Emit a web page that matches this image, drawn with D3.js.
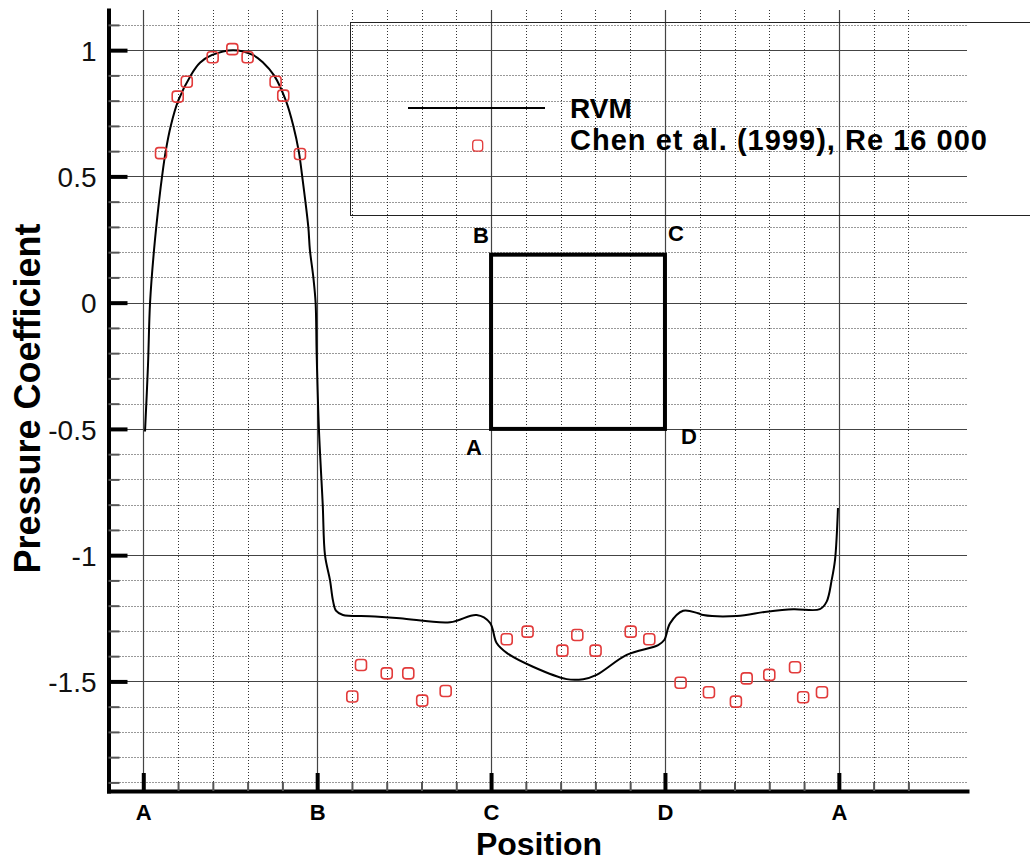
<!DOCTYPE html>
<html><head><meta charset="utf-8">
<script src="https://cdn.jsdelivr.net/npm/d3@7"></script>
<style>
body{margin:0;background:#fff;}
svg{display:block;font-family:"Liberation Sans",Arial,Helvetica,sans-serif;}
</style></head><body>
<svg id="chart" width="1030" height="862"></svg>
<script>
// ---- data ----
const rvmPos = [0.01,0.027,0.039,0.062,0.092,0.108,0.129,0.158,0.201,0.273,0.326,0.393,0.518,0.633,0.69,0.752,0.82,0.863,0.894,0.914,0.949,0.958,0.978,0.991,0.997,1.01,1.032,1.045,1.074,1.091,1.108,1.148,1.3,1.476,1.764,1.917,1.994,2.032,2.09,2.241,2.435,2.53,2.607,2.78,2.961,2.996,3.029,3.105,3.19,3.22,3.413,3.585,3.738,3.891,3.93,3.959,3.978,3.995];
const rvmCp  = [-0.51,-0.25,0.0,0.21,0.41,0.5,0.6,0.7,0.8,0.9,0.95,0.98,1.0,0.98,0.95,0.9,0.8,0.7,0.6,0.5,0.3,0.21,0.1,0.0,-0.2,-0.5,-0.8,-1.0,-1.1,-1.18,-1.22,-1.237,-1.242,-1.25,-1.266,-1.237,-1.268,-1.348,-1.387,-1.442,-1.491,-1.491,-1.474,-1.395,-1.356,-1.336,-1.27,-1.22,-1.23,-1.237,-1.241,-1.224,-1.214,-1.214,-1.184,-1.098,-1.019,-0.813];
const expPos = [0.102,0.198,0.25,0.399,0.512,0.6,0.761,0.805,0.901,1.202,1.252,1.4,1.524,1.604,1.739,2.09,2.21,2.41,2.496,2.601,2.803,2.91,3.09,3.253,3.408,3.47,3.6,3.748,3.795,3.903];
const expCp  = [0.592,0.816,0.875,0.972,1.004,0.972,0.875,0.82,0.589,-1.56,-1.435,-1.468,-1.468,-1.576,-1.538,-1.333,-1.303,-1.378,-1.316,-1.378,-1.303,-1.333,-1.505,-1.543,-1.58,-1.488,-1.474,-1.444,-1.563,-1.543];
const xTickValues = [0,1,2,3,4];
const xTickLabels = ["A","B","C","D","A"];
const yTickValues = [-1.5,-1,-0.5,0,0.5,1];
const xDomain = [-0.2, 4.737];
const yDomain = [-1.934, 1.159];
const legendLabels = ["RVM","Chen et al. (1999), Re 16 000"];
const sectionX = [2,3];
const sectionY = [-0.5,0.19];
const sectionLabels = ["A","B","C","D"];
const xTitle = "Position";
const yTitle = "Pressure Coefficient";

// ---- layout ----
const L = 108.5, R = 967, T = 10, B = 791;
const svg = d3.select("#chart");
const x = d3.scaleLinear().domain(xDomain).range([L, R]);
const y = d3.scaleLinear().domain(yDomain).range([B, T]);

const isMajorX = v => Math.abs(v - Math.round(v)) < 1e-6;
const isMajorY = v => Math.abs(v*2 - Math.round(v*2)) < 1e-6;
const xMinor = d3.range(1, 24).map(i => +(i*0.2 - 0.2).toFixed(2)).filter(v => !isMajorX(v) && v < xDomain[1]);
const yMinor = d3.range(-19, 12).map(i => +(i*0.1).toFixed(2)).filter(v => !isMajorY(v));

// ---- grid ----
const grid = svg.append("g");
grid.selectAll(".vminor").data(xMinor).join("line")
  .attr("x1", d => Math.round(x(d))+0.5).attr("x2", d => Math.round(x(d))+0.5)
  .attr("y1", T).attr("y2", B)
  .attr("stroke", "#333").attr("stroke-width", 1).attr("stroke-dasharray", "1,2");
grid.selectAll(".hminor").data(yMinor).join("line")
  .attr("y1", d => Math.round(y(d))+0.5).attr("y2", d => Math.round(y(d))+0.5)
  .attr("x1", L+2).attr("x2", R)
  .attr("stroke", "#333").attr("stroke-width", 1).attr("stroke-dasharray", "1,2");
grid.selectAll(".vmajor").data(xTickValues).join("line")
  .attr("x1", d => Math.round(x(d))+0.5).attr("x2", d => Math.round(x(d))+0.5)
  .attr("y1", T).attr("y2", B)
  .attr("stroke", "#444").attr("stroke-width", 1.2);
grid.selectAll(".hmajor").data(yTickValues).join("line")
  .attr("y1", d => Math.round(y(d))+0.5).attr("y2", d => Math.round(y(d))+0.5)
  .attr("x1", L).attr("x2", R)
  .attr("stroke", "#444").attr("stroke-width", 1.2);

// ---- legend box ----
svg.append("rect").attr("x", 350.5).attr("y", 22.5).attr("width", 720).attr("height", 193)
  .attr("fill", "none").attr("stroke", "#222").attr("stroke-width", 1);
svg.append("line").attr("x1", 408).attr("x2", 545).attr("y1", 108).attr("y2", 108)
  .attr("stroke", "#000").attr("stroke-width", 2);
svg.append("rect").attr("x", 477.7-5).attr("y", 145.7-5.5).attr("width", 10).attr("height", 11).attr("rx", 3)
  .attr("fill", "none").attr("stroke", "#e23b3b").attr("stroke-width", 1.3);
svg.append("text").attr("x", 570).attr("y", 118).attr("font-size", 28).attr("font-weight", "bold").text(legendLabels[0]);
svg.append("text").attr("x", 570).attr("y", 150).attr("font-size", 29).attr("font-weight", "bold")
  .attr("textLength", 417).attr("lengthAdjust", "spacing").text(legendLabels[1]);

// ---- cross-section sketch ----
svg.append("rect")
  .attr("x", x(sectionX[0])).attr("y", y(sectionY[1]))
  .attr("width", x(sectionX[1]) - x(sectionX[0])).attr("height", y(sectionY[0]) - y(sectionY[1]))
  .attr("fill", "none").attr("stroke", "#000").attr("stroke-width", 4);
const corners = [
  {px: x(sectionX[0]), py: y(sectionY[0]), dx: -17, dy: 26},
  {px: x(sectionX[0]), py: y(sectionY[1]), dx: -10, dy: -12},
  {px: x(sectionX[1]), py: y(sectionY[1]), dx: 11, dy: -14},
  {px: x(sectionX[1]), py: y(sectionY[0]), dx: 24, dy: 15}
];
svg.selectAll(".corner").data(corners).join("text")
  .attr("x", d => d.px + d.dx).attr("y", d => d.py + d.dy)
  .attr("text-anchor", "middle").attr("font-size", 22).attr("font-weight", "bold")
  .text((d, i) => sectionLabels[i]);

// ---- axes ----
const yAxisMajor = d3.axisLeft(y).tickValues(yTickValues).tickSize(-19).tickSizeOuter(0).tickPadding(12)
  .tickFormat(d => String(d));
const gy = svg.append("g").attr("transform", `translate(${L},0)`).call(yAxisMajor);
gy.attr("font-family", null).attr("font-size", null);
gy.select(".domain").attr("stroke-width", 4).attr("stroke", "#000").attr("stroke-linecap", "square");
gy.selectAll(".tick line").attr("stroke-width", 4).attr("stroke", "#000");
gy.selectAll(".tick text").attr("font-size", 28).attr("fill", "#111").attr("dy", "0.36em");
const yAxisMinor = d3.axisLeft(y).tickValues(yMinor).tickSize(-11).tickFormat("");
const gym = svg.append("g").attr("transform", `translate(${L},0)`).call(yAxisMinor);
gym.select(".domain").remove();
gym.selectAll(".tick line").attr("stroke-width", 2).attr("stroke", "#555");

const xAxisMajor = d3.axisBottom(x).tickValues(xTickValues).tickSize(-18).tickSizeOuter(0).tickPadding(13)
  .tickFormat((d, i) => xTickLabels[i]);
const gx = svg.append("g").attr("transform", `translate(0,${B})`).call(xAxisMajor);
gx.attr("font-family", null).attr("font-size", null);
gx.select(".domain").attr("stroke-width", 4).attr("stroke", "#000").attr("stroke-linecap", "square");
gx.selectAll(".tick line").attr("stroke-width", 4).attr("stroke", "#000");
gx.selectAll(".tick text").attr("font-size", 22).attr("font-weight", "bold").attr("fill", "#000");
const xAxisMinor = d3.axisBottom(x).tickValues(xMinor).tickSize(-9).tickFormat("");
const gxm = svg.append("g").attr("transform", `translate(0,${B})`).call(xAxisMinor);
gxm.select(".domain").remove();
gxm.selectAll(".tick line").attr("stroke-width", 2).attr("stroke", "#555");

// ---- series ----
const rvm = rvmPos.map((p, i) => [p, rvmCp[i]]);
const line = d3.line().x(d => x(d[0])).y(d => y(d[1])).curve(d3.curveCatmullRom.alpha(0.5));
svg.append("path").datum(rvm).attr("d", line)
  .attr("fill", "none").attr("stroke", "#000").attr("stroke-width", 2);

const exp = expPos.map((p, i) => [p, expCp[i]]);
svg.selectAll(".exp").data(exp).join("rect")
  .attr("x", d => x(d[0]) - 5.5).attr("y", d => y(d[1]) - 5.5)
  .attr("width", 11).attr("height", 11).attr("rx", 3)
  .attr("fill", "none").attr("stroke", "#e23b3b").attr("stroke-width", 1.6);

// ---- titles ----
svg.append("text").attr("transform", "translate(40,398.5) rotate(-90)")
  .attr("text-anchor", "middle").attr("font-size", 36).attr("font-weight", "bold").text(yTitle);
svg.append("text").attr("x", 539).attr("y", 855)
  .attr("text-anchor", "middle").attr("font-size", 32).attr("font-weight", "bold").text(xTitle);
</script>
</body></html>
